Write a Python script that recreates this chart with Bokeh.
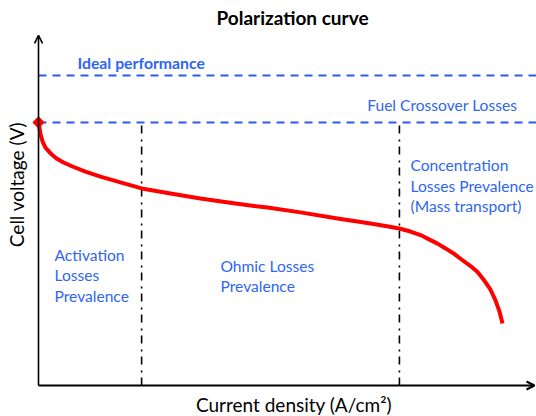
import math
from bokeh.plotting import figure
from bokeh.models import Range1d, Arrow, OpenHead, ColumnDataSource
from bokeh.core.properties import value
from bokeh.embed import file_html
from bokeh.resources import INLINE

# ---- data ----
current_density = [0.000, 0.004, 0.008, 0.016, 0.027, 0.047, 0.070, 0.097, 0.132,
                   0.182, 0.240, 0.318, 0.400, 0.512, 0.628, 0.764, 0.888, 1.016,
                   1.160, 1.288, 1.346, 1.400, 1.443, 1.482, 1.517, 1.548, 1.579,
                   1.610, 1.641, 1.676, 1.703, 1.726, 1.753, 1.773, 1.788, 1.800]
cell_voltage = [1.044, 1.020, 0.996, 0.968, 0.944, 0.921, 0.901, 0.885, 0.869,
                0.849, 0.829, 0.806, 0.782, 0.762, 0.742, 0.722, 0.706, 0.687,
                0.663, 0.643, 0.633, 0.623, 0.611, 0.597, 0.579, 0.563, 0.544,
                0.524, 0.500, 0.474, 0.450, 0.421, 0.381, 0.337, 0.294, 0.246]
ideal_voltage = 1.23
crossover_voltage = 1.044
region_bounds = [0.4, 1.4]
x_axis_end = 1.924
y_axis_end = 1.389

title = "Polarization curve"
x_label = "Current density (A/cm²)"
y_label = "Cell voltage (V)"

# ---- layout helpers (pixel -> data) ----
XS, YS = 257.8, 252.0
W, H = 536, 416
OX, OY = 38, 385          # pixel position of the origin
X0, Y0 = -OX / XS, -(H - OY) / YS


def dx(px):
    return (px - OX) / XS


def dy(py):
    return (OY - py) / YS


p = figure(width=W, height=H, output_backend="svg", toolbar_location=None,
           x_axis_location=None, y_axis_location=None, min_border=0,
           x_range=Range1d(X0, X0 + W / XS), y_range=Range1d(Y0, Y0 + H / YS))
p.grid.visible = False
p.outline_line_color = None
p.background_fill_color = "white"

FONT = value("Lato")
BLUE_TXT = "#2F66F2"
BLUE_LN = "#2A5CE8"

xr_end = X0 + W / XS

# dashed reference lines
p.line([0, xr_end], [ideal_voltage, ideal_voltage], line_color=BLUE_LN,
       line_width=2, line_dash="8 6")
p.line([0, xr_end], [crossover_voltage, crossover_voltage], line_color=BLUE_LN,
       line_width=2, line_dash="8 6")

# region boundaries
for b in region_bounds:
    p.line([b, b], [0, crossover_voltage], line_color="black", line_width=1.6,
           line_dash="8 5 2 6")

# axes with arrows
p.add_layout(Arrow(end=OpenHead(size=8, line_width=1.6, line_color="black"),
                   x_start=0, y_start=0, x_end=0, y_end=y_axis_end,
                   line_width=1.6, line_color="black"))
p.add_layout(Arrow(end=OpenHead(size=8, line_width=2, line_color="black"),
                   x_start=0, y_start=0, x_end=x_axis_end, y_end=0,
                   line_width=2.2, line_color="black"))

# polarization curve
p.line(current_density, cell_voltage, line_color="#FF0000", line_width=4,
       line_join="round")
p.scatter([current_density[0]], [cell_voltage[0]], marker="square", angle=math.pi / 4,
          size=8, fill_color="#FF0000", line_color="#FF0000")

# texts
p.text(x=[dx(292)], y=[dy(16.5)], text=[title], text_font=FONT, text_font_size="19px",
       text_font_style="bold", text_align="center", text_baseline="middle",
       text_color="black")
p.text(x=[dx(293.5)], y=[dy(404)], text=[x_label], text_font=FONT, text_font_size="19px",
       text_align="center", text_baseline="middle", text_color="black")
p.text(x=[dx(15.5)], y=[dy(184)], text=[y_label], text_font=FONT, text_font_size="19px",
       text_align="center", text_baseline="middle", text_color="black", angle=math.pi / 2)

p.text(x=[dx(77)], y=[dy(61.5)], text=["Ideal performance"], text_font=FONT,
       text_font_size="15.8px", text_font_style="bold", text_align="left",
       text_baseline="middle", text_color=BLUE_TXT)

labels = ["Fuel Crossover Losses", "Activation", "Losses", "Prevalence",
          "Ohmic Losses", "Prevalence", "Concentration", "Losses Prevalence",
          "(Mass transport)"]
lx = [366.7, 54, 54, 54, 220, 220, 410, 410, 410]
ly = [104, 254, 274.5, 295, 265, 285, 164.5, 185, 205.5]
src = ColumnDataSource(dict(x=[dx(v) for v in lx], y=[dy(v) for v in ly], t=labels))
p.text(x="x", y="y", text="t", source=src, text_font=FONT, text_font_size="15.6px",
       text_align="left", text_baseline="middle", text_color=BLUE_TXT)

open("out.html", "w").write(file_html(p, INLINE))
